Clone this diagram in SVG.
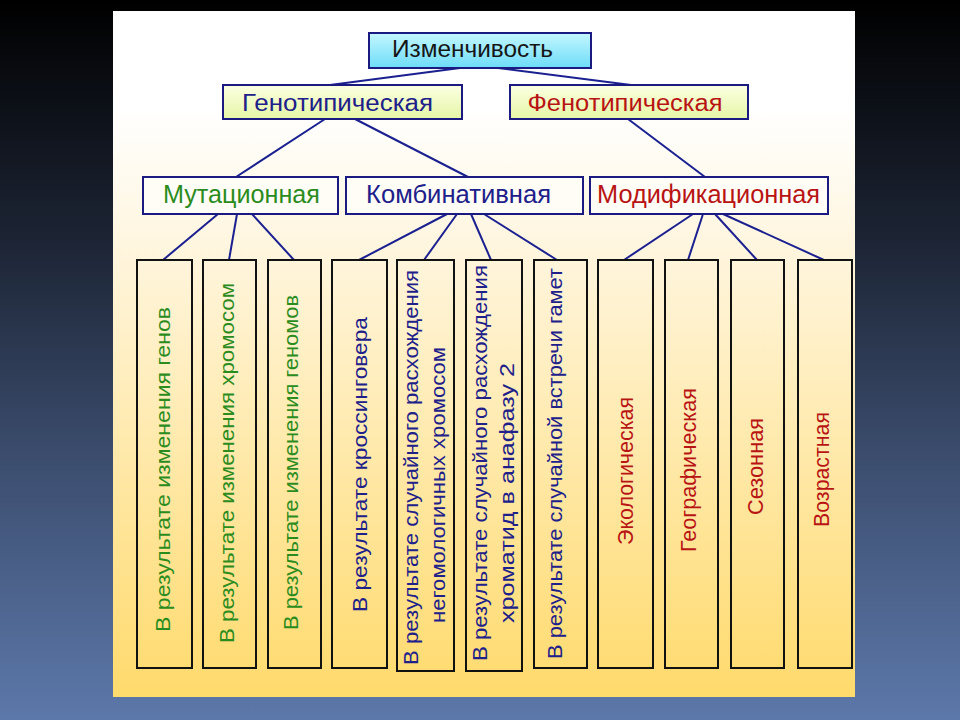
<svg xmlns="http://www.w3.org/2000/svg" width="960" height="720" viewBox="0 0 960 720">
<defs>
<linearGradient id="bg" x1="0" y1="0" x2="0" y2="1">
<stop offset="0" stop-color="#000000"/>
<stop offset="0.33" stop-color="#1c2434"/>
<stop offset="0.66" stop-color="#3e5072"/>
<stop offset="1" stop-color="#5c78aa"/>
</linearGradient>
<linearGradient id="panel" x1="0" y1="0" x2="0" y2="1">
<stop offset="0" stop-color="#ffffff"/>
<stop offset="0.14" stop-color="#ffffff"/>
<stop offset="0.36" stop-color="#fff5dc"/>
<stop offset="1" stop-color="#ffda6c"/>
</linearGradient>
<linearGradient id="cyan" x1="0" y1="0" x2="0" y2="1">
<stop offset="0" stop-color="#c4f7ff"/>
<stop offset="1" stop-color="#6ddcf8"/>
</linearGradient>
<linearGradient id="lime" x1="0" y1="0" x2="0" y2="1">
<stop offset="0" stop-color="#fbffe2"/>
<stop offset="1" stop-color="#e6f6a6"/>
</linearGradient>
</defs>
<style>
.t{font-family:"Liberation Sans",Arial,sans-serif}
.box{stroke:#1a1a80;stroke-width:2}
.lvl{fill:#fffdf6;stroke:#1a1a80;stroke-width:2}
.col{fill:none;stroke:#111111;stroke-width:2}
.navy{fill:#20208a}
.green{fill:#2b8c1e}
.red{fill:#b81414}
.conn line{stroke:#1a2090;stroke-width:2}
.v{font-size:20.5px}
.vr{font-size:22px}
</style>
<rect x="0" y="0" width="960" height="720" fill="url(#bg)"/>
<rect x="113" y="11" width="742" height="686" fill="url(#panel)"/>

<g id="connectors" class="conn">
<line x1="460" y1="68" x2="330" y2="85"/>
<line x1="498" y1="68" x2="631" y2="85"/>
<line x1="325" y1="119" x2="236" y2="177"/>
<line x1="355" y1="119" x2="468" y2="177"/>
<line x1="628" y1="119" x2="705" y2="177"/>
<line x1="218" y1="214" x2="163" y2="260"/>
<line x1="237" y1="214" x2="229" y2="260"/>
<line x1="252" y1="214" x2="294" y2="260"/>
<line x1="447" y1="214" x2="359" y2="260"/>
<line x1="457" y1="214" x2="424" y2="260"/>
<line x1="471" y1="214" x2="491" y2="260"/>
<line x1="484" y1="214" x2="557" y2="260"/>
<line x1="693" y1="214" x2="624" y2="260"/>
<line x1="703" y1="214" x2="688" y2="260"/>
<line x1="715" y1="214" x2="757" y2="260"/>
<line x1="723" y1="214" x2="824" y2="260"/>
</g>

<g id="izmenchivost">
<rect class="box" x="369" y="33" width="222" height="35" fill="url(#cyan)"/>
<text class="t" x="472.5" y="57" font-size="24" fill="#151515" text-anchor="middle" textLength="161" lengthAdjust="spacingAndGlyphs">Изменчивость</text>
</g>
<g id="genotip">
<rect class="box" x="223" y="85" width="239" height="34" fill="url(#lime)"/>
<text class="t navy" x="337.5" y="111" font-size="23" text-anchor="middle" textLength="191" lengthAdjust="spacingAndGlyphs">Генотипическая</text>
</g>
<g id="fenotip">
<rect class="box" x="510" y="85" width="238" height="34" fill="url(#lime)"/>
<text class="t red" x="625" y="111" font-size="23" text-anchor="middle" textLength="195" lengthAdjust="spacingAndGlyphs">Фенотипическая</text>
</g>
<g id="mutac">
<rect class="lvl" x="143" y="177" width="195" height="37"/>
<text class="t green" x="241.5" y="203" font-size="25" text-anchor="middle" textLength="157" lengthAdjust="spacingAndGlyphs">Мутационная</text>
</g>
<g id="kombin">
<rect class="lvl" x="346" y="177" width="237" height="37"/>
<text class="t navy" x="458.5" y="203" font-size="25" text-anchor="middle" textLength="185" lengthAdjust="spacingAndGlyphs">Комбинативная</text>
</g>
<g id="modif">
<rect class="lvl" x="590" y="177" width="238" height="37"/>
<text class="t red" x="708.5" y="203" font-size="25" text-anchor="middle" textLength="223" lengthAdjust="spacingAndGlyphs">Модификационная</text>
</g>

<g id="b1">
<rect class="col" x="137" y="260" width="55" height="408"/>
<text class="t green v" transform="translate(170,469.5) rotate(-90)" text-anchor="middle" textLength="325" lengthAdjust="spacingAndGlyphs">В результате изменения генов</text>
</g>
<g id="b2">
<rect class="col" x="203" y="260" width="53" height="408"/>
<text class="t green v" transform="translate(234,463) rotate(-90)" text-anchor="middle" textLength="360" lengthAdjust="spacingAndGlyphs">В результате изменения хромосом</text>
</g>
<g id="b3">
<rect class="col" x="268" y="260" width="53" height="408"/>
<text class="t green v" transform="translate(298,462.5) rotate(-90)" text-anchor="middle" textLength="335" lengthAdjust="spacingAndGlyphs">В результате изменения геномов</text>
</g>
<g id="b4">
<rect class="col" x="332" y="260" width="55" height="408"/>
<text class="t navy v" transform="translate(367,464.5) rotate(-90)" text-anchor="middle" textLength="295" lengthAdjust="spacingAndGlyphs">В результате кроссинговера</text>
</g>
<g id="b5">
<rect class="col" x="397" y="260" width="57" height="411"/>
<text class="t navy v" transform="translate(418,467.5) rotate(-90)" text-anchor="middle" textLength="395" lengthAdjust="spacingAndGlyphs">В результате случайного расхождения</text>
<text class="t navy v" transform="translate(445,485) rotate(-90)" text-anchor="middle" textLength="276" lengthAdjust="spacingAndGlyphs">негомологичных  хромосом</text>
</g>
<g id="b6">
<rect class="col" x="466" y="260" width="56" height="411"/>
<text class="t navy v" transform="translate(487,463) rotate(-90)" text-anchor="middle" textLength="396" lengthAdjust="spacingAndGlyphs">В результате случайного расхождения</text>
<text class="t navy v" transform="translate(514,493) rotate(-90)" text-anchor="middle" textLength="260" lengthAdjust="spacingAndGlyphs">хроматид в анафазу 2</text>
</g>
<g id="b7">
<rect class="col" x="534" y="260" width="53" height="408"/>
<text class="t navy v" transform="translate(562,463.5) rotate(-90)" text-anchor="middle" textLength="391" lengthAdjust="spacingAndGlyphs">В результате случайной встречи гамет</text>
</g>
<g id="b8">
<rect class="col" x="598" y="260" width="55" height="408"/>
<text class="t red vr" transform="translate(633,471) rotate(-90)" text-anchor="middle" textLength="148" lengthAdjust="spacingAndGlyphs">Экологическая</text>
</g>
<g id="b9">
<rect class="col" x="665" y="260" width="53" height="408"/>
<text class="t red vr" transform="translate(696,470) rotate(-90)" text-anchor="middle" textLength="164" lengthAdjust="spacingAndGlyphs">Географическая</text>
</g>
<g id="b10">
<rect class="col" x="731" y="260" width="53" height="408"/>
<text class="t red vr" transform="translate(763,466.5) rotate(-90)" text-anchor="middle" textLength="97" lengthAdjust="spacingAndGlyphs">Сезонная</text>
</g>
<g id="b11">
<rect class="col" x="798" y="260" width="54" height="408"/>
<text class="t red vr" transform="translate(829,469.5) rotate(-90)" text-anchor="middle" textLength="115" lengthAdjust="spacingAndGlyphs">Возрастная</text>
</g>
</svg>
